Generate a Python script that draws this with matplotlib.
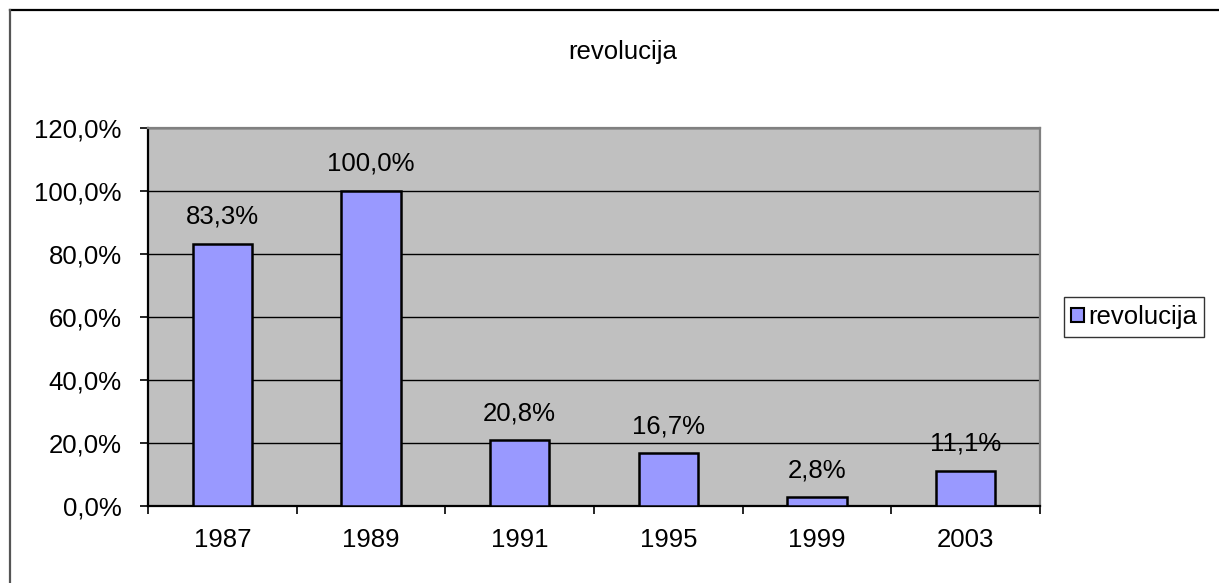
import matplotlib
matplotlib.use("Agg")
import matplotlib.pyplot as plt
from matplotlib.lines import Line2D
from matplotlib.patches import Patch
from matplotlib.ticker import FuncFormatter, FixedLocator, NullFormatter

plt.rcParams['font.family'] = ['Liberation Sans', 'DejaVu Sans']

years = ["1987", "1989", "1991", "1995", "1999", "2003"]
values = [83.3, 100.0, 20.8, 16.7, 2.8, 11.1]
series_name = "revolucija"
title = "revolucija"

FS = 18.5

W, H = 1219, 583
fig = plt.figure(figsize=(W / 100, H / 100), dpi=100)
fig.patch.set_facecolor("white")

# outer chart frame (top and left edges visible)
fig.add_artist(Line2D([10 / W, 1.0], [1 - 10 / H, 1 - 10 / H], color="black", lw=1.6))
fig.add_artist(Line2D([10 / W, 10 / W], [0.0, 1 - 10 / H], color="#555555", lw=1.6))

ax = fig.add_axes([148 / W, 1 - 506 / H, (1040 - 148) / W, (506 - 128) / H])
ax.set_facecolor("#C0C0C0")

x = list(range(len(years)))
bars = ax.bar(x, values, width=0.4, color="#9999FF", edgecolor="black", linewidth=1.8,
              zorder=3, label=series_name)

for xi, v in zip(x, values):
    ax.annotate(f"{v:.1f}%".replace(".", ","), (xi, v), xytext=(0, 19.5),
                textcoords="offset points", ha="center", va="center", fontsize=FS, zorder=4)

ax.set_xlim(-0.5, len(years) - 0.5)
ax.set_ylim(0, 120)
ax.set_yticks([0, 20, 40, 60, 80, 100, 120])
ax.yaxis.set_major_formatter(FuncFormatter(lambda v, p: f"{v:.1f}%".replace(".", ",")))
ax.yaxis.grid(True, color="black", linewidth=1.0, zorder=1)
ax.set_axisbelow(True)

# category labels centred, ticks on the category boundaries
ax.xaxis.set_major_locator(FixedLocator([i - 0.5 for i in range(len(years) + 1)]))
ax.xaxis.set_major_formatter(NullFormatter())
ax.xaxis.set_minor_locator(FixedLocator(x))
ax.set_xticklabels(years, minor=True)
ax.tick_params(axis="x", which="major", length=6, width=1.2, direction="out")
ax.tick_params(axis="x", which="minor", length=0, pad=16, labelsize=FS)
ax.tick_params(axis="y", length=6, width=1.2, direction="out", pad=13, labelsize=FS)

for side in ("left", "bottom"):
    ax.spines[side].set_color("black")
    ax.spines[side].set_linewidth(1.6)
for side in ("top", "right"):
    ax.spines[side].set_color("#808080")
    ax.spines[side].set_linewidth(1.6)

fig.text(623 / W, 1 - 52 / H, title, ha="center", va="center", fontsize=FS)

handle = Patch(facecolor="#9999FF", edgecolor="black", linewidth=1.5)
leg = fig.legend([handle], [series_name], loc="center", bbox_to_anchor=(1134 / W, 1 - 317 / H),
                 fontsize=FS, frameon=True, fancybox=False, handlelength=0.5, handleheight=0.5,
                 handletextpad=0.15, borderpad=0.3, borderaxespad=0)
leg.get_frame().set_edgecolor("black")
leg.get_frame().set_linewidth(1.0)

fig.savefig("out.png", dpi=100)
